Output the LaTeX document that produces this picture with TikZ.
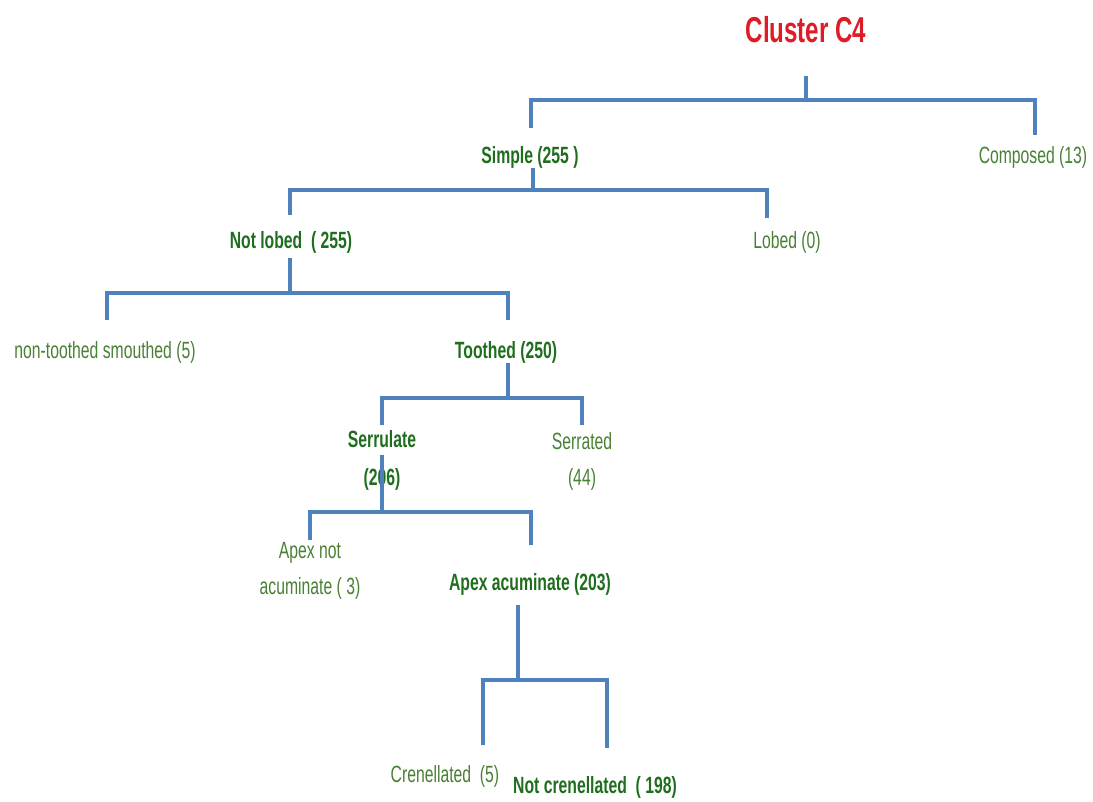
\documentclass[tikz,border=0pt]{standalone}
\usepackage{fontspec}
\setmainfont{Liberation Sans}
\newfontfamily\narrowsans{Liberation Sans}[FakeStretch=0.67]
\usepackage{tikz}
\usetikzlibrary{positioning}
\definecolor{branchblue}{RGB}{79,129,189}
\definecolor{leafgreen}{RGB}{72,128,52}
\definecolor{keygreen}{RGB}{30,110,30}
\definecolor{titlered}{RGB}{222,28,40}
\tikzset{
  branch/.style = {draw=branchblue, line width=4.5pt, line join=miter},
  leaf/.style = {text=leafgreen, anchor=base, inner sep=0pt, align=center,
    font=\narrowsans\fontsize{23.5}{36}\selectfont},
  key/.style = {leaf, text=keygreen,
    font=\narrowsans\bfseries\fontsize{23.5}{38}\selectfont},
  heading/.style = {text=titlered, anchor=base, inner sep=0pt,
    font=\narrowsans\bfseries\fontsize{36}{40}\selectfont}
}

\begin{document}
\begin{tikzpicture}[x=1pt,y=-1pt]

\useasboundingbox (0,0) rectangle (1093,802);

% labels
\node[heading] (cluster) at (806,43) {Cluster C4};

\node[key]  (simple)   at (530,164) {Simple (255 )};
\node[leaf] (composed) at (1033,164) {Composed (13)};

\node[key]  (notlobed) at (291,249) {Not lobed~~( 255)};
\node[leaf] (lobed)    at (787,249) {Lobed (0)};

\node[leaf] (smooth)   at (105,359) {non-toothed smouthed (5)};
\node[key]  (toothed)  at (506,359) {Toothed (250)};

\node[key]  (serrulate) at (382,485) {Serrulate\\(206)};
\node[leaf] (serrated)  at (582,485) {Serrated\\(44)};

\node[leaf] (apexnot) at (310,594) {Apex not\\acuminate ( 3)};
\node[key]  (apexacu) at (530,590) {Apex acuminate (203)};

\node[leaf] (cren)    at (445,782) {Crenellated~~(5)};
\node[key]  (notcren) at (595,793) {Not crenellated~~( 198)};

% branch points
\coordinate (top1) at (806,76);  \coordinate (mid1) at (806,100);
\coordinate (left1) at (531,128); \coordinate (right1) at (1035,135);

\coordinate (top2) at (533,168); \coordinate (mid2) at (533,190);
\coordinate (left2) at (290,215); \coordinate (right2) at (767,218);

\coordinate (top3) at (290,258); \coordinate (mid3) at (290,293);
\coordinate (left3) at (107,320); \coordinate (right3) at (508,320);

\coordinate (top4) at (508,363); \coordinate (mid4) at (508,398);
\coordinate (left4) at (382,425); \coordinate (right4) at (582,425);

\coordinate (top5) at (382,455); \coordinate (mid5) at (382,512);
\coordinate (left5) at (310,540); \coordinate (right5) at (531,545);

\coordinate (top6) at (518,605); \coordinate (mid6) at (518,680);
\coordinate (left6) at (483,745); \coordinate (right6) at (607,748);

\foreach \i in {1,...,6}{
  \draw[branch] (top\i) -- (mid\i);
  \draw[branch] (left\i) -- (left\i |- mid\i) -- (right\i |- mid\i) -- (right\i);
}

\end{tikzpicture}
\end{document}
